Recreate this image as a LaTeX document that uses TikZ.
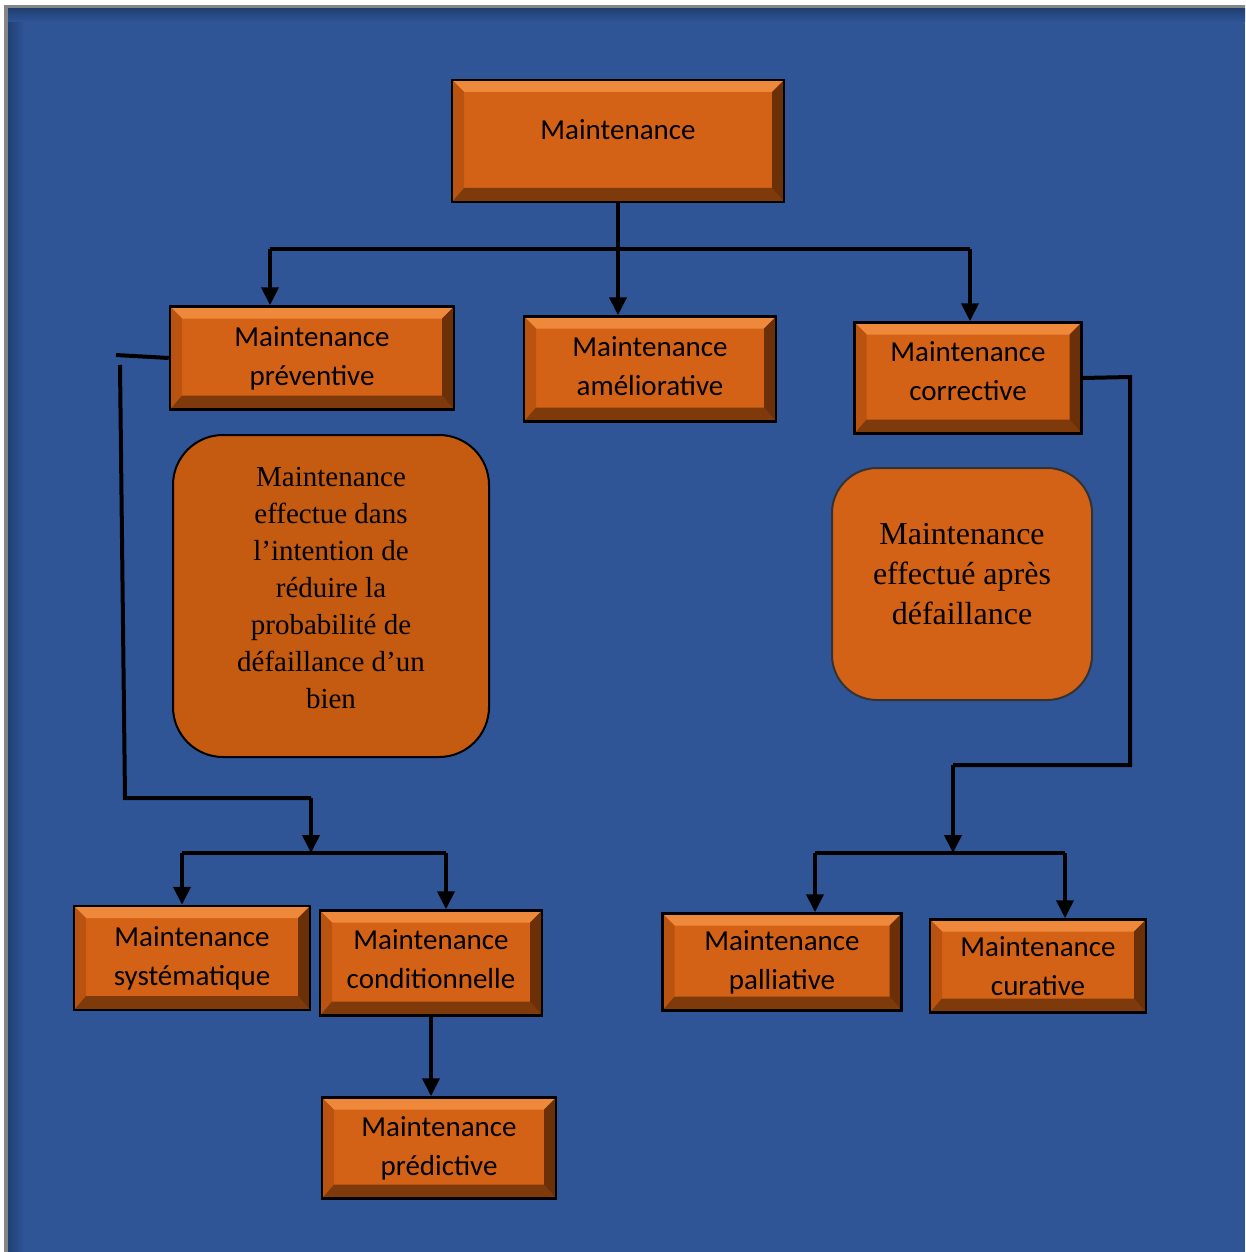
\documentclass[tikz,border=0pt]{standalone}
\usepackage{fontspec}
\setmainfont{Liberation Serif}
\newfontfamily\boxfont{Carlito}
\usepackage{tikz}
\usetikzlibrary{arrows.meta}
\definecolor{bgblue}{HTML}{2F5597}
\definecolor{bgdark}{HTML}{203F74}
\definecolor{frame}{HTML}{858585}
\definecolor{boxorange}{HTML}{D46216}
\definecolor{bevtop}{HTML}{EE893C}
\definecolor{bevleft}{HTML}{B9530F}
\definecolor{bevbot}{HTML}{7E3A0B}
\definecolor{bevright}{HTML}{6B3008}
\definecolor{descdark}{HTML}{C55A11}
\tikzstyle{mt} = [rectangle, draw=black, line width=2.5pt, fill=boxorange,
    align=center, inner sep=0pt, font=\boxfont\fontsize{29}{39}\selectfont,
    path picture={
      \fill[bevtop] (path picture bounding box.north west) -- (path picture bounding box.north east)
        -- ([shift={(-12pt,-12pt)}]path picture bounding box.north east)
        -- ([shift={(12pt,-12pt)}]path picture bounding box.north west) -- cycle;
      \fill[bevleft] (path picture bounding box.north west) -- (path picture bounding box.south west)
        -- ([shift={(12pt,14pt)}]path picture bounding box.south west)
        -- ([shift={(12pt,-12pt)}]path picture bounding box.north west) -- cycle;
      \fill[bevbot] (path picture bounding box.south west) -- (path picture bounding box.south east)
        -- ([shift={(-12pt,14pt)}]path picture bounding box.south east)
        -- ([shift={(12pt,14pt)}]path picture bounding box.south west) -- cycle;
      \fill[bevright] (path picture bounding box.north east) -- (path picture bounding box.south east)
        -- ([shift={(-12pt,14pt)}]path picture bounding box.south east)
        -- ([shift={(-12pt,-12pt)}]path picture bounding box.north east) -- cycle;
    }]
\tikzstyle{descl} = [rectangle, rounded corners=50pt, draw=black, line width=2pt,
    fill=descdark, align=center, font=\fontsize{29}{37}\selectfont]
\tikzstyle{descr} = [rectangle, rounded corners=45pt, draw=black!80, line width=2pt,
    fill=boxorange, align=center, font=\fontsize{32}{40}\selectfont]

\begin{document}
\begin{tikzpicture}[->,>={Triangle[width=17pt,length=18pt]},line width=4pt,
                    x=1pt,y=-1pt]

  \useasboundingbox (0,0) rectangle (1245,1252);
  \fill[white] (0,0) rectangle (1245,1252);
  \fill[frame] (4,5) rectangle (1245,1252);
  \fill[bgblue] (8,9) rectangle (1245,1252);
  \shade[left color=bgdark,right color=bgblue] (8,9) rectangle (24,1252);
  \shade[top color=bgdark,bottom color=bgblue] (8,9) rectangle (1245,22);

  \node[mt,minimum width=332pt,minimum height=122pt,text depth=22pt] (main) at (618,141) {Maintenance};
  \node[mt,minimum width=284pt,minimum height=103pt] (prev) at (312,358) {Maintenance\\préventive};
  \node[mt,minimum width=252pt,minimum height=105pt,text depth=6pt] (amel) at (650,369) {Maintenance\\améliorative};
  \node[mt,minimum width=227pt,minimum height=111pt,text depth=14pt] (corr) at (968,378) {Maintenance\\corrective};

  \node[descl,minimum width=316pt,minimum height=322pt,text depth=16pt] (dprev) at (331,596)
    {Maintenance\\effectue dans\\l’intention de\\réduire la\\probabilité de\\défaillance d’un\\bien};
  \node[descr,minimum width=260pt,minimum height=232pt,text depth=20pt] (dcorr) at (962,584)
    {Maintenance\\effectué après\\défaillance};

  \node[mt,minimum width=236pt,minimum height=104pt] (syst) at (192,958) {Maintenance\\systématique};
  \node[mt,minimum width=222pt,minimum height=105pt,text depth=8pt] (cond) at (431,963) {Maintenance\\conditionnelle};
  \node[mt,minimum width=234pt,minimum height=101pt] (pred) at (439,1148) {Maintenance\\prédictive};
  \node[mt,minimum width=239pt,minimum height=97pt] (pall) at (782,962) {Maintenance\\palliative};
  \node[mt,minimum width=216pt,minimum height=93pt] (cur) at (1038,966) {Maintenance\\curative};

  \coordinate (jl) at (270,249);
  \coordinate (jr) at (970,249);
  \draw[-] (jl) -- (jr);
  \draw (jl) -- (jl |- prev.north);
  \draw (main.south) -- (main.south |- amel.north);
  \draw (jr) -- (jr |- corr.north);

  \coordinate (ps) at (116,355);
  \coordinate (pt) at (120,365);
  \coordinate (pb) at (125,798);
  \coordinate (pm) at (311,798);
  \coordinate (pj) at (311,853);
  \coordinate (sl) at (182,853);
  \coordinate (sr) at (446,853);
  \draw[-] (prev.west) -- (ps);
  \draw[-] (pt) -- (pb) -- (pm);
  \draw (pm) -- (pj);
  \draw[-] (sl) -- (sr);
  \draw (sl) -- (sl |- syst.north);
  \draw (sr) -- (sr |- cond.north);
  \draw (cond.south) -- (cond.south |- pred.north);

  \coordinate (cr) at (1130,377);
  \coordinate (cb) at (1130,765);
  \coordinate (cm) at (953,765);
  \coordinate (cj) at (953,853);
  \coordinate (ql) at (815,853);
  \coordinate (qr) at (1065,853);
  \draw[-] (corr.east) -- (cr) -- (cb) -- (cm);
  \draw (cm) -- (cj);
  \draw[-] (ql) -- (qr);
  \draw (ql) -- (ql |- pall.north);
  \draw (qr) -- (qr |- cur.north);
\end{tikzpicture}
\end{document}
